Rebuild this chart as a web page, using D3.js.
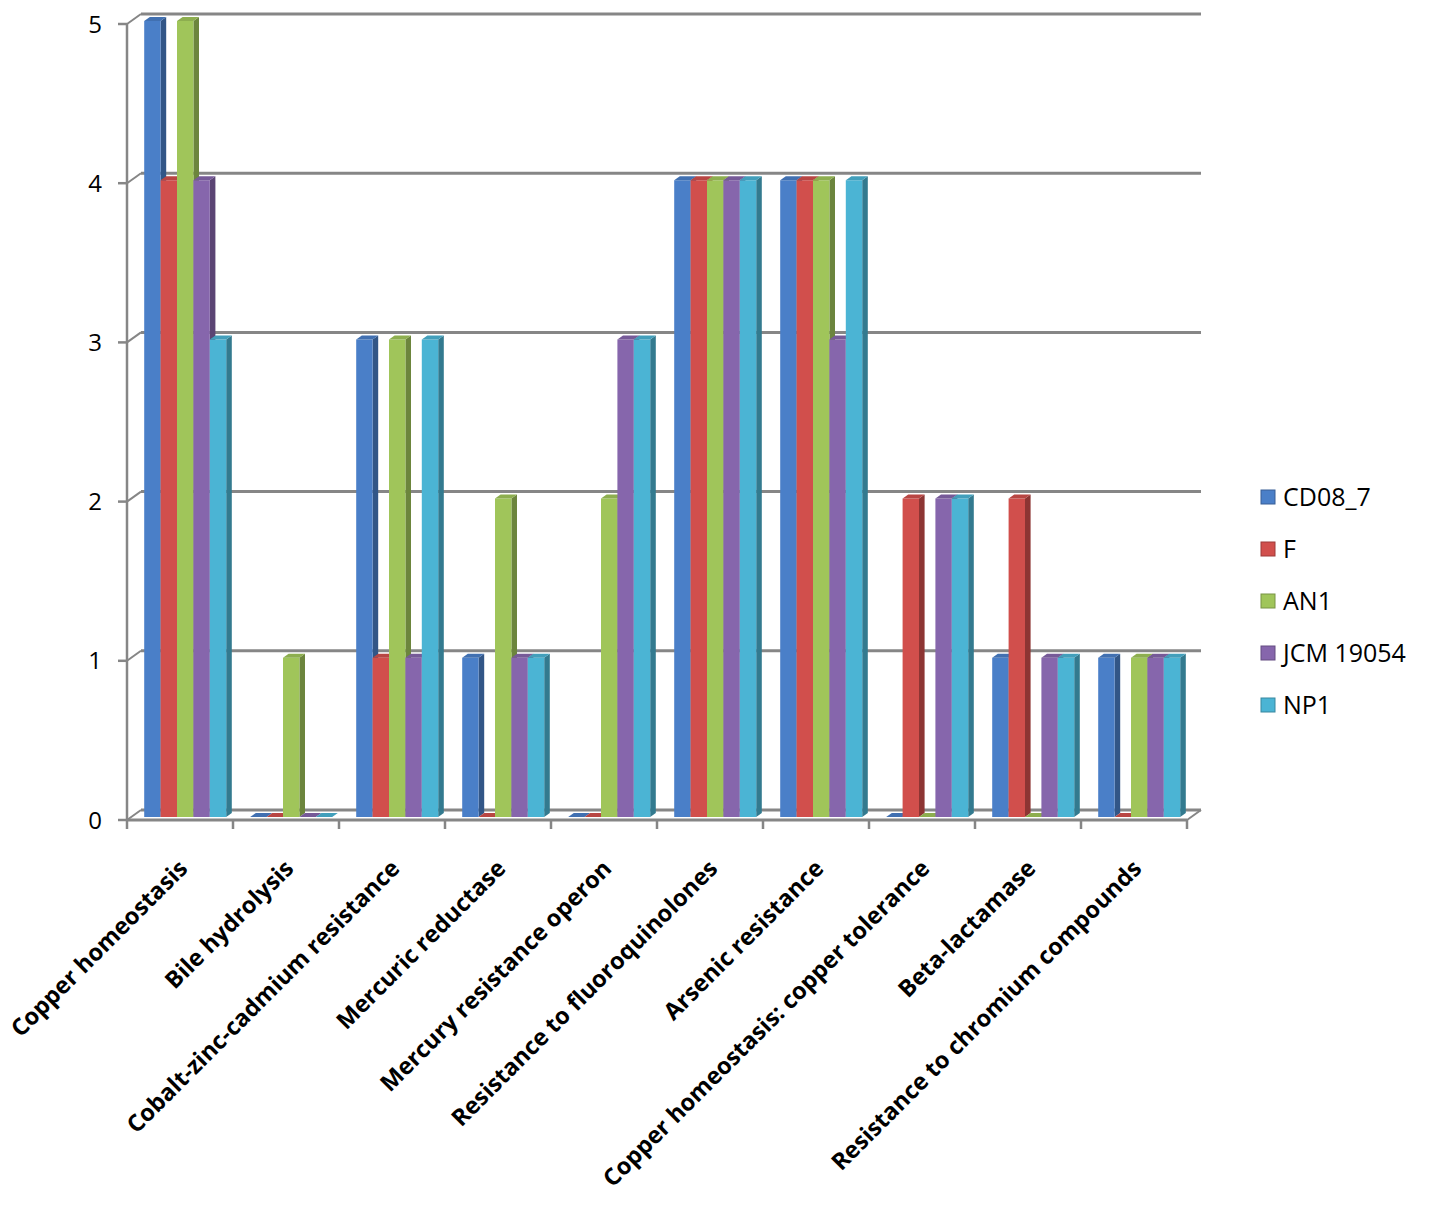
<!DOCTYPE html>
<html>
<head>
<meta charset="utf-8">
<script src="https://cdn.jsdelivr.net/npm/d3@7"></script>
<style>
  body { margin: 0; background: #fff; }
  svg { display: block; }
</style>
</head>
<body>
<svg id="chart"></svg>
<script>
// categories and series values
const categories = [
  "Copper homeostasis",
  "Bile hydrolysis",
  "Cobalt-zinc-cadmium resistance",
  "Mercuric reductase",
  "Mercury resistance operon",
  "Resistance to fluoroquinolones",
  "Arsenic resistance",
  "Copper homeostasis: copper tolerance",
  "Beta-lactamase",
  "Resistance to chromium compounds"
];
const seriesNames = ["CD08_7", "F", "AN1", "JCM 19054", "NP1"];
const CD08_7 = [5, 0, 3, 1, 0, 4, 4, 0, 1, 1];
const F      = [4, 0, 1, 0, 0, 4, 4, 2, 2, 0];
const AN1    = [5, 1, 3, 2, 2, 4, 4, 0, 0, 1];
const JCM    = [4, 0, 1, 1, 3, 4, 3, 2, 1, 1];
const NP1    = [3, 0, 3, 1, 3, 4, 4, 2, 1, 1];
const yTicks = [0, 1, 2, 3, 4, 5];

const seriesValues = [CD08_7, F, AN1, JCM, NP1];
const colors = ["#4A7FC8", "#D14F4C", "#A0C55A", "#8666AC", "#4BB4D4"];

const W = 1450, H = 1211;
const DX = 14, DY = 10;        // depth offset of the back wall
const Z0 = 0.3, Z1 = 0.7;      // depth range of the columns

const svg = d3.select("#chart").attr("width", W).attr("height", H)
  .style("font-family", "'Open Sans', 'Noto Sans', sans-serif");

const x = d3.scaleBand().domain(d3.range(categories.length)).range([127, 1187]);
const xs = d3.scaleBand().domain(d3.range(seriesNames.length)).range([13, 95]);
const y = d3.scaleLinear().domain([0, 5]).range([820, 24]);

// project (x, value, depth) onto the screen
const P = (px, v, z) => [px + z * DX, y(v) - z * DY];
const poly = pts => "M" + pts.map(p => p.join(",")).join("L") + "Z";

const grey = "#868686";
const axisG = svg.append("g");

// back wall gridlines
axisG.selectAll("line.grid").data(yTicks).enter().append("line")
  .attr("x1", x.range()[0] + DX).attr("x2", x.range()[1] + DX)
  .attr("y1", d => y(d) - DY).attr("y2", d => y(d) - DY)
  .attr("stroke", grey).attr("stroke-width", 3);

// side wall diagonals
axisG.selectAll("line.side").data(yTicks).enter().append("line")
  .attr("x1", x.range()[0]).attr("x2", x.range()[0] + DX)
  .attr("y1", d => y(d)).attr("y2", d => y(d) - DY)
  .attr("stroke", grey).attr("stroke-width", 2);

// floor right edge
axisG.append("line")
  .attr("x1", x.range()[1]).attr("y1", y(0))
  .attr("x2", x.range()[1] + DX).attr("y2", y(0) - DY)
  .attr("stroke", grey).attr("stroke-width", 2);

// value axis
axisG.append("line")
  .attr("x1", x.range()[0]).attr("x2", x.range()[0])
  .attr("y1", y(5)).attr("y2", y(0))
  .attr("stroke", grey).attr("stroke-width", 2.5);
axisG.selectAll("line.ytick").data(yTicks).enter().append("line")
  .attr("x1", x.range()[0] - 9).attr("x2", x.range()[0])
  .attr("y1", d => y(d)).attr("y2", d => y(d))
  .attr("stroke", grey).attr("stroke-width", 2.5);
axisG.selectAll("text.ylab").data(yTicks).enter().append("text")
  .attr("x", 102).attr("y", d => y(d))
  .attr("dy", "0.36em").attr("text-anchor", "end")
  .attr("font-size", 24).attr("fill", "#000")
  .text(d => d);

// category axis
axisG.append("line")
  .attr("x1", x.range()[0]).attr("x2", x.range()[1])
  .attr("y1", y(0)).attr("y2", y(0))
  .attr("stroke", grey).attr("stroke-width", 3);
axisG.selectAll("line.xtick").data(d3.range(categories.length + 1)).enter().append("line")
  .attr("x1", d => x.range()[0] + d * x.bandwidth())
  .attr("x2", d => x.range()[0] + d * x.bandwidth())
  .attr("y1", y(0)).attr("y2", y(0) + 9)
  .attr("stroke", grey).attr("stroke-width", 2.5);

// columns
const bars = [];
categories.forEach((c, i) => {
  seriesValues.forEach((vals, j) => {
    bars.push({ i, j, v: vals[i] });
  });
});

const barG = svg.append("g");
bars.forEach(b => {
  const x0 = x(b.i) + xs(b.j);
  const x1 = x0 + xs.bandwidth();
  const col = d3.color(colors[b.j]);
  const g = barG.append("g");
  // right side face
  g.append("path")
    .attr("d", poly([P(x1, 0, Z0), P(x1, 0, Z1), P(x1, b.v, Z1), P(x1, b.v, Z0)]))
    .attr("fill", col.darker(1.1));
  // front face
  g.append("path")
    .attr("d", poly([P(x0, 0, Z0), P(x1, 0, Z0), P(x1, b.v, Z0), P(x0, b.v, Z0)]))
    .attr("fill", col);
  // top face
  g.append("path")
    .attr("d", poly([P(x0, b.v, Z0), P(x1, b.v, Z0), P(x1, b.v, Z1), P(x0, b.v, Z1)]))
    .attr("fill", col.darker(0.35));
});

// category labels
svg.append("g").selectAll("text").data(categories).enter().append("text")
  .attr("transform", (d, i) => `translate(${x(i) + x.bandwidth() / 2 + 9},870) rotate(-45)`)
  .attr("text-anchor", "end")
  .attr("font-size", 23.5).attr("font-weight", "bold").attr("fill", "#000")
  .text(d => d);

// legend
const legend = svg.append("g").selectAll("g").data(seriesNames).enter().append("g")
  .attr("transform", (d, i) => `translate(1261,${497 + i * 52})`);
legend.append("rect")
  .attr("x", 0).attr("y", -7).attr("width", 14).attr("height", 14)
  .attr("fill", (d, i) => colors[i])
  .attr("stroke", (d, i) => d3.color(colors[i]).darker(0.8)).attr("stroke-width", 1);
legend.append("text")
  .attr("x", 22).attr("dy", "0.36em")
  .attr("font-size", 25).attr("fill", "#000")
  .text(d => d);
</script>
</body>
</html>
